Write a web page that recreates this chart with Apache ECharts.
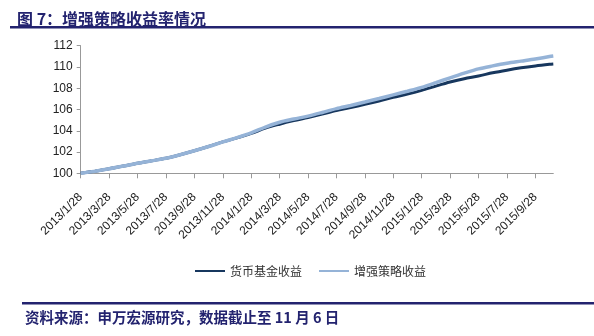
<!DOCTYPE html>
<html>
<head>
<meta charset="utf-8">
<script src="https://cdn.jsdelivr.net/npm/echarts@6/dist/echarts.min.js"></script>
<style>
html,body{margin:0;padding:0;background:#fff;}
#chart{width:594px;height:336px;}
</style>
</head>
<body>
<div id="chart"></div>
<script>
const titleText = '图 7：增强策略收益率情况';
const sourceText = '资料来源：申万宏源研究，数据截止至 11 月 6 日';
const seriesNames = ['货币基金收益', '增强策略收益'];

const dates = [
  '2013/1/28','2013/2/28','2013/3/28','2013/4/28','2013/5/28','2013/6/28',
  '2013/7/28','2013/8/28','2013/9/28','2013/10/28','2013/11/28','2013/12/28',
  '2014/1/28','2014/2/28','2014/3/28','2014/4/28','2014/5/28','2014/6/28',
  '2014/7/28','2014/8/28','2014/9/28','2014/10/28','2014/11/28','2014/12/28',
  '2015/1/28','2015/2/28','2015/3/28','2015/4/28','2015/5/28','2015/6/28',
  '2015/7/28','2015/8/28','2015/9/28','2015/10/28','2015/11/6'
];

const moneyFund = [
  100.00,100.20,100.42,100.68,100.95,101.18,
  101.42,101.75,102.12,102.52,102.95,103.33,
  103.75,104.25,104.62,104.95,105.25,105.57,
  105.90,106.18,106.48,106.80,107.15,107.45,
  107.80,108.20,108.58,108.90,109.15,109.45,
  109.70,109.92,110.10,110.25,110.28
];

const enhanced = [
  100.00,100.20,100.42,100.68,100.95,101.18,
  101.42,101.75,102.12,102.52,102.95,103.35,
  103.80,104.35,104.80,105.10,105.38,105.72,
  106.08,106.38,106.70,107.03,107.38,107.72,
  108.08,108.52,108.98,109.42,109.82,110.10,
  110.35,110.55,110.75,110.98,111.03
];

const xTickLabels = [
  '2013/1/28','2013/3/28','2013/5/28','2013/7/28','2013/9/28','2013/11/28',
  '2014/1/28','2014/3/28','2014/5/28','2014/7/28','2014/9/28','2014/11/28',
  '2015/1/28','2015/3/28','2015/5/28','2015/7/28','2015/9/28'
];

const yMin = 100, yMax = 112, yInterval = 2;

function monthIndex(s) {
  const p = s.split('/').map(Number);
  return (p[0] - 2013) * 12 + (p[1] - 1) + (p[2] - 28) / 30;
}

const xs = dates.map(monthIndex);
const tickVals = xTickLabels.map(monthIndex);
const labelMap = {};
xTickLabels.forEach(function (l, i) { labelMap[tickVals[i].toFixed(3)] = l; });

const navy = '#23236f';
const chart = echarts.init(document.getElementById('chart'), null, {renderer: 'canvas'});
chart.setOption({
  animation: false,
  backgroundColor: '#fff',
  title: {
    text: titleText,
    left: 12, top: 6,
    textStyle: {
      fontFamily: 'Noto Sans CJK SC', fontSize: 16, fontWeight: 'bold', color: navy
    }
  },
  graphic: [
    {type: 'rect', shape: {x: 10, y: 26, width: 584, height: 2.5}, style: {fill: navy}},
    {type: 'rect', shape: {x: 22, y: 302, width: 572, height: 2.5}, style: {fill: navy}},
    {type: 'text', left: 25, top: 310, style: {
      text: sourceText, fill: navy,
      font: 'bold 14.5px "Noto Sans CJK SC"'
    }}
  ],
  legend: {
    left: 190, top: 260,
    itemWidth: 30, itemHeight: 2, itemGap: 17,
    icon: 'rect',
    textStyle: {fontFamily: 'Noto Sans CJK SC', fontSize: 12, color: '#333'},
    data: seriesNames
  },
  grid: {left: 80.7, right: 40.7, top: 45.7, bottom: 162.7, containLabel: false},
  xAxis: {
    type: 'value',
    min: 0, max: xs[xs.length - 1],
    splitLine: {show: false},
    axisLine: {lineStyle: {color: '#999', width: 1}},
    axisTick: {show: true, length: 5, lineStyle: {color: '#999'}, customValues: tickVals},
    axisLabel: {
      customValues: tickVals,
      rotate: 45, margin: 22,
      fontFamily: 'Liberation Sans, Arial', fontSize: 12, color: '#222',
      formatter: function (v) { return labelMap[v.toFixed(3)] || ''; }
    }
  },
  yAxis: {
    type: 'value',
    min: yMin, max: yMax, interval: yInterval,
    splitLine: {show: false},
    axisLine: {show: true, lineStyle: {color: '#999', width: 1}},
    axisTick: {show: true, length: 4, lineStyle: {color: '#999'}},
    axisLabel: {margin: 8, fontFamily: 'Liberation Sans, Arial', fontSize: 12, color: '#222'}
  },
  series: [
    {
      name: seriesNames[0], type: 'line', showSymbol: false, smooth: 0.3,
      data: xs.map(function (x, i) { return [x, moneyFund[i]]; }),
      lineStyle: {color: '#17375e', width: 3},
      itemStyle: {color: '#17375e'}
    },
    {
      name: seriesNames[1], type: 'line', showSymbol: false, smooth: 0.3,
      data: xs.map(function (x, i) { return [x, enhanced[i]]; }),
      lineStyle: {color: '#95b3d7', width: 3.5},
      itemStyle: {color: '#95b3d7'}
    }
  ]
});
</script>
</body>
</html>
